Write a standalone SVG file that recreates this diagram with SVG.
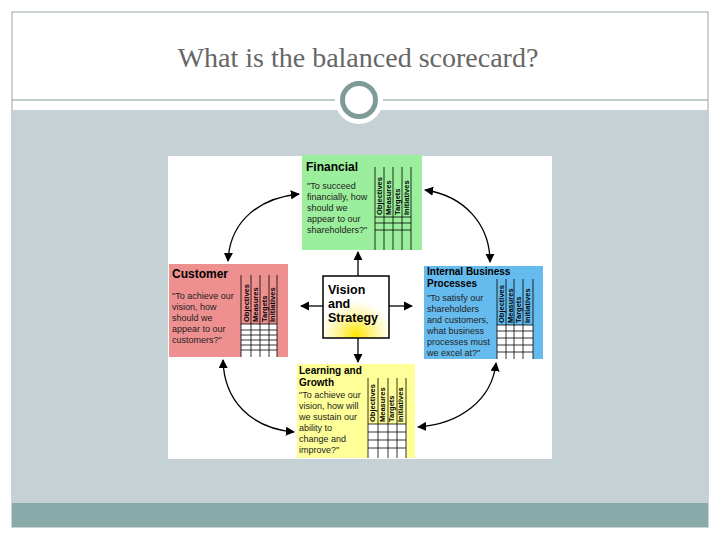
<svg xmlns="http://www.w3.org/2000/svg" width="720" height="540" viewBox="0 0 720 540">
<defs>
<style>
.t{font-family:"Liberation Sans",Arial,sans-serif;fill:#000}
.h{font-weight:bold;font-size:12px}
.h2{font-weight:bold;font-size:10px}
.q{font-size:9px;fill:#222}
.c{font-size:7.5px;font-weight:bold}
.g{fill:none;stroke:#000;stroke-width:0.8}
.con{fill:none;stroke:#000;stroke-width:1.3}
</style>
<marker id="a" viewBox="0 0 10 10" refX="9" refY="5" markerWidth="7" markerHeight="7" orient="auto-start-reverse"><path d="M0,0L10,5L0,10z" fill="#000"/></marker>
<radialGradient id="glow" cx="0.5" cy="0.95" r="0.55"><stop offset="0" stop-color="#ffe600"/><stop offset="0.5" stop-color="#fff59a"/><stop offset="1" stop-color="#fff"/></radialGradient>
</defs>
<rect width="720" height="540" fill="#fff"/>
<rect x="12" y="12" width="696" height="515" fill="none" stroke="#9aa8a8"/>
<rect x="12" y="110" width="696" height="393" fill="#c6d1d5"/>
<rect x="12" y="503" width="696" height="24" fill="#88aaa8"/>
<line x1="12" y1="100" x2="708" y2="100" stroke="#7f9597" stroke-width="1.2"/>
<circle cx="359" cy="100" r="24" fill="#fff"/>
<circle cx="359" cy="100" r="16.5" fill="#fff" stroke="#7f9a99" stroke-width="5"/>
<text x="358" y="67" text-anchor="middle" font-family="'Liberation Serif',serif" font-size="28" fill="#666">What is the balanced scorecard?</text>
<rect x="168" y="156" width="384" height="303" fill="#fff"/>

<g id="financial">
<rect x="302" y="155" width="120" height="95" fill="#9bee9b"/>
<text class="t h" x="306" y="171">Financial</text>
<text class="t q"><tspan x="307" y="189">"To succeed</tspan><tspan x="307" y="200">financially, how</tspan><tspan x="307" y="211">should we</tspan><tspan x="307" y="222">appear to our</tspan><tspan x="307" y="233">shareholders?"</tspan></text>
<path class="g" d="M375,167V250M384,167V250M393,167V250M402,167V250M411,167V250M375,217H411M375,223H411M375,230H411"/>
<g class="t c"><text transform="translate(382,215) rotate(-90)">Objectives</text><text transform="translate(391,215) rotate(-90)">Measures</text><text transform="translate(400,215) rotate(-90)">Targets</text><text transform="translate(409,215) rotate(-90)">Initiatives</text></g>
</g>

<g id="customer">
<rect x="169" y="264" width="119" height="93" fill="#ef9090"/>
<text class="t h" x="172" y="278">Customer</text>
<text class="t q"><tspan x="172" y="299">"To achieve our</tspan><tspan x="172" y="310">vision, how</tspan><tspan x="172" y="321">should we</tspan><tspan x="172" y="332">appear to our</tspan><tspan x="172" y="343">customers?"</tspan></text>
<rect x="241" y="324" width="36" height="33" fill="#fff"/>
<path class="g" d="M241,275V357M251,275V357M260,275V357M269,275V357M277,275V357M241,324H277M241,330H277M241,335H277M241,340H277M241,345H277M241,350H277"/>
<g class="t c"><text transform="translate(249,322) rotate(-90)">Objectives</text><text transform="translate(258,322) rotate(-90)">Measures</text><text transform="translate(267,322) rotate(-90)">Targets</text><text transform="translate(275,322) rotate(-90)">Initiatives</text></g>
</g>

<g id="internal">
<rect x="424" y="266" width="119" height="93" fill="#66bbee"/>
<text class="t h2" x="427" y="275">Internal Business</text>
<text class="t h2" x="427" y="287">Processes</text>
<text class="t q"><tspan x="427" y="301">"To satisfy our</tspan><tspan x="427" y="312">shareholders</tspan><tspan x="427" y="323">and customers,</tspan><tspan x="427" y="334">what business</tspan><tspan x="427" y="345">processes must</tspan><tspan x="427" y="356">we excel at?"</tspan></text>
<rect x="497" y="325" width="36" height="34" fill="#fff"/>
<path class="g" d="M497,279V359M506,279V359M514,279V359M523,279V359M533,279V359M497,325H533M497,331H533M497,338H533M497,345H533M497,352H533"/>
<g class="t c"><text transform="translate(504,323) rotate(-90)">Objectives</text><text transform="translate(513,323) rotate(-90)">Measures</text><text transform="translate(521,323) rotate(-90)">Targets</text><text transform="translate(530,323) rotate(-90)">Initiatives</text></g>
</g>

<g id="learning">
<rect x="297" y="364" width="118" height="94" fill="#ffff99"/>
<text class="t h2" x="299" y="374">Learning and</text>
<text class="t h2" x="299" y="386">Growth</text>
<text class="t q"><tspan x="299" y="398">"To achieve our</tspan><tspan x="299" y="409">vision, how will</tspan><tspan x="299" y="420">we sustain our</tspan><tspan x="299" y="431">ability to</tspan><tspan x="299" y="442">change and</tspan><tspan x="299" y="453">improve?"</tspan></text>
<rect x="368" y="424" width="38" height="34" fill="#fff"/>
<path class="g" d="M368,378V458M378,378V458M388,378V458M397,378V458M406,378V458M368,424H406M368,432H406M368,440H406M368,448H406"/>
<g class="t c"><text transform="translate(375,422) rotate(-90)">Objectives</text><text transform="translate(385,422) rotate(-90)">Measures</text><text transform="translate(394,422) rotate(-90)">Targets</text><text transform="translate(403,422) rotate(-90)">Initiatives</text></g>
</g>

<g id="vision">
<rect x="323" y="276" width="66" height="62" fill="url(#glow)" stroke="#000" stroke-width="1.5"/>
<text class="t" font-weight="bold" font-size="12.5"><tspan x="328" y="294">Vision</tspan><tspan x="328" y="308">and</tspan><tspan x="328" y="322">Strategy</tspan></text>
</g>

<g id="connectors">
<path class="con" marker-end="url(#a)" d="M358,276V252"/>
<path class="con" marker-end="url(#a)" d="M358,338V362"/>
<path class="con" marker-end="url(#a)" d="M323,306H301"/>
<path class="con" marker-end="url(#a)" d="M389,306H412"/>
<path class="con" marker-start="url(#a)" marker-end="url(#a)" d="M299,194C260,198 230,220 228,261"/>
<path class="con" marker-start="url(#a)" marker-end="url(#a)" d="M425,190C465,196 490,225 490,262"/>
<path class="con" marker-start="url(#a)" marker-end="url(#a)" d="M496,363C492,400 460,424 418,427"/>
<path class="con" marker-start="url(#a)" marker-end="url(#a)" d="M294,432C250,428 224,400 223,360"/>
</g>
</svg>
